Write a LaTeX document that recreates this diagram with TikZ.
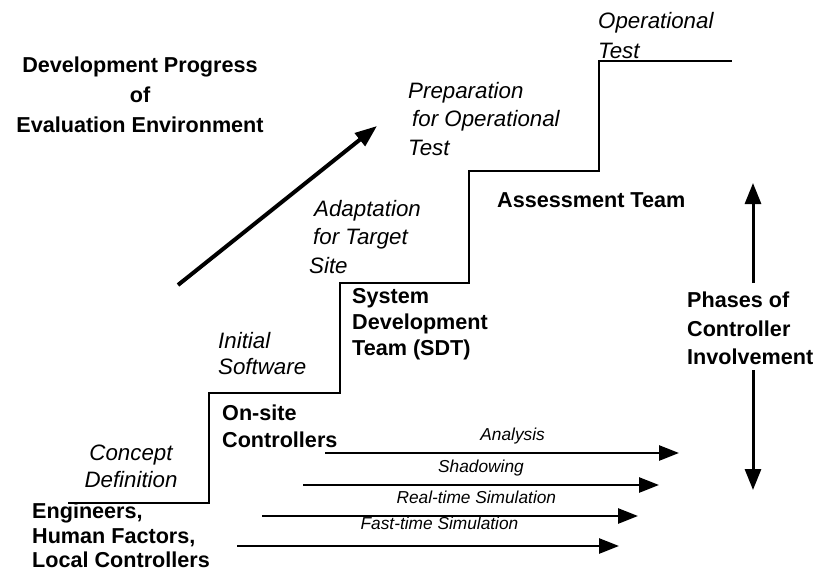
\documentclass[tikz,border=0pt]{standalone}
\usepackage{fontspec}
\setmainfont{Liberation Sans}
\usetikzlibrary{arrows.meta, positioning}

\tikzset{
  boldlbl/.style={font=\bfseries\fontsize{21.6}{#1}\selectfont, align=left, inner sep=0pt},
  boldlbl/.default=27,
  itlbl/.style={font=\itshape\fontsize{22.3}{#1}\selectfont, align=left, inner sep=0pt},
  itlbl/.default=28,
  simlbl/.style={font=\itshape\fontsize{17.3}{20}\selectfont, inner sep=0pt, text depth=0pt, above=11pt},
  flow/.style={line width=2.7pt, -{Triangle[length=20pt, width=15pt]}},
  phase/.style={line width=3pt, -{Triangle[length=21pt, width=16pt]}},
}

\begin{document}
\begin{tikzpicture}[x=1pt, y=-1pt]
  \useasboundingbox (0,0) rectangle (815,573);

  % steps of the evaluation environment
  \draw[line width=2.8pt] (68,503) -| (209,393) -| (340,283) -| (469,171) -| (599,61) -- (732,61);

  % bold labels
  \node[boldlbl=30, align=center, anchor=north] (dev) at (140,57) {Development Progress\\of\\Evaluation Environment};
  \node[boldlbl=24.5, anchor=north west] (eng) at (32,503) {Engineers,\\Human Factors,\\Local Controllers};
  \node[boldlbl, anchor=north west] (onsite) at (222,405) {On-site\\Controllers};
  \node[boldlbl=26, anchor=north west] (sdt) at (352,288) {System\\Development\\Team (SDT)};
  \node[boldlbl, anchor=west] (assess) at (497,200) {Assessment Team};
  \node[boldlbl=28.5, anchor=north west] (phases) at (687,292) {Phases of\\Controller\\Involvement};

  % italic labels
  \node[itlbl=27, align=center, anchor=north] (concept) at (131,445) {Concept\\Definition};
  \node[itlbl=26, anchor=north west] (initial) at (218,332) {Initial\\Software};
  \node[itlbl=28.5, anchor=north west] (adapt) at (309,200) {\hspace{5pt}Adaptation\\\hspace{4pt}for Target\\Site};
  \node[itlbl=28.5, anchor=north west] (prep) at (408,82) {Preparation\\\hspace{4pt}for Operational\\Test};
  \node[itlbl=30, anchor=north west] (optest) at (598,12) {Operational\\Test};

  % arrow ends
  \coordinate (g0) at (178,285);
  \coordinate (g1) at (377,126);
  \coordinate (up0) at (753,283);
  \coordinate (up1) at (753,183);
  \coordinate (dn0) at (753,370);
  \coordinate (dn1) at (753,490);
  \coordinate (a0) at (325,453);
  \coordinate (a1) at (679,453);
  \coordinate (s0) at (303,485);
  \coordinate (s1) at (659,485);
  \coordinate (r0) at (262,516);
  \coordinate (r1) at (638,516);
  \coordinate (f0) at (237,546);
  \coordinate (f1) at (619,546);

  \draw[line width=4pt, -{Triangle[length=22pt, width=16pt]}] (g0) -- (g1);
  \draw[phase] (up0) -- (up1);
  \draw[phase] (dn0) -- (dn1);

  \path[flow]
    (a0) edge node[simlbl, pos=.53] {Analysis} (a1)
    (s0) edge node[simlbl, pos=.50] {Shadowing} (s1)
    (r0) edge node[simlbl, pos=.57] {Real-time Simulation} (r1)
    (f0) edge node[simlbl, pos=.53, above=15pt] {Fast-time Simulation} (f1);
\end{tikzpicture}
\end{document}
